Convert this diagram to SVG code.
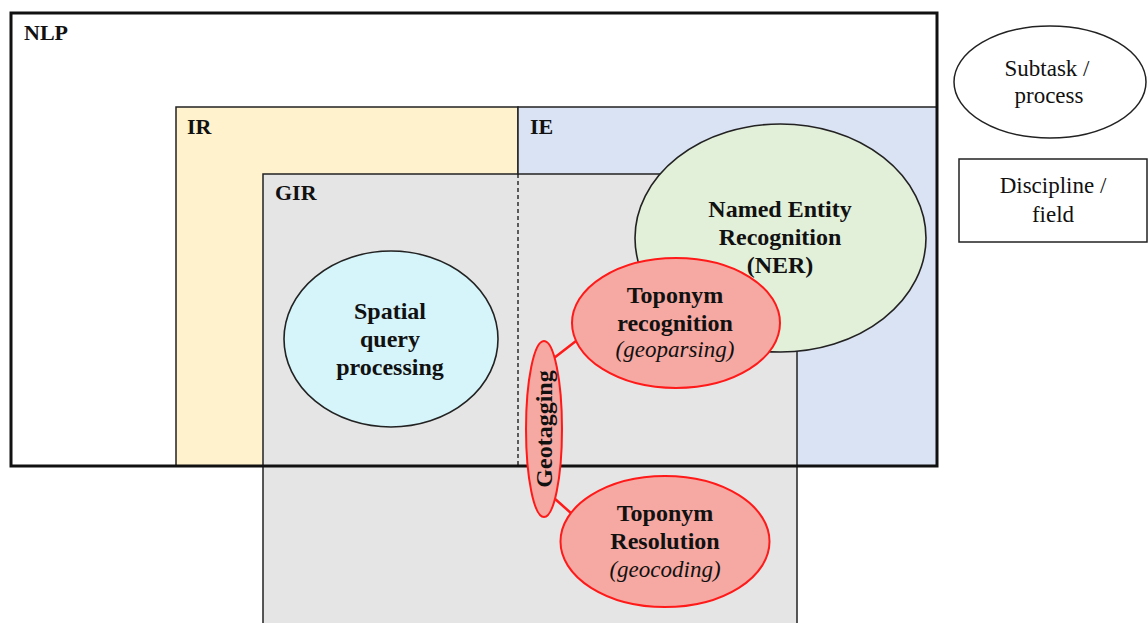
<svg xmlns="http://www.w3.org/2000/svg" width="1148" height="623" viewBox="0 0 1148 623">
<style>
.field{stroke:#222;stroke-width:1.5}
.lbl{font-family:"Liberation Serif",serif;font-weight:bold;font-size:22px;fill:#111}
.nt{font-family:"Liberation Serif",serif;font-weight:bold;font-size:24px;fill:#111;text-anchor:middle}
.it{font-family:"Liberation Serif",serif;font-style:italic;font-size:23px;fill:#111;text-anchor:middle}
.lg{font-family:"Liberation Serif",serif;font-size:23px;fill:#111;text-anchor:middle}
.sub{stroke:#222;stroke-width:1.6}
.red{fill:#f6a8a2;stroke:#ff1a1a;stroke-width:2}
</style>
<rect x="0" y="0" width="1148" height="623" fill="#ffffff"/>
<g id="NLP-fill"><rect x="11" y="13" width="926" height="453" fill="#ffffff"/></g>
<g id="IR"><rect class="field" x="176" y="107" width="342" height="359" fill="#fff2cc"/></g>
<g id="IE"><rect class="field" x="518" y="107" width="419" height="359" fill="#dae3f3"/></g>
<g id="GIR"><rect class="field" x="263" y="174" width="534" height="460" fill="#e5e5e5"/>
<line x1="518" y1="174" x2="518" y2="466" stroke="#111" stroke-width="1.3" stroke-dasharray="4,3"/></g>
<g id="NLP"><rect x="11" y="13" width="926" height="453" fill="none" stroke="#111" stroke-width="3"/>
<text class="lbl" x="24" y="40">NLP</text></g>
<text class="lbl" x="187" y="134">IR</text>
<text class="lbl" x="530" y="134">IE</text>
<text class="lbl" x="275" y="200">GIR</text>
<g id="connectors">
<line x1="554" y1="358" x2="576" y2="341" stroke="#ff1a1a" stroke-width="2.5"/>
<line x1="554" y1="498" x2="572" y2="514" stroke="#ff1a1a" stroke-width="2.5"/>
</g>
<g id="NER"><ellipse class="sub" cx="780.5" cy="238" rx="145.5" ry="114" fill="#e2efd9"/>
<text class="nt" x="780" y="217">Named Entity</text>
<text class="nt" x="780" y="245">Recognition</text>
<text class="nt" x="780" y="273">(NER)</text></g>
<g id="spatial"><ellipse class="sub" cx="391" cy="339" rx="107" ry="88" fill="#d5f5fb"/>
<text class="nt" x="390" y="319">Spatial</text>
<text class="nt" x="390" y="347">query</text>
<text class="nt" x="390" y="375">processing</text></g>
<g id="toponym-recognition"><ellipse class="red" cx="676" cy="323" rx="104" ry="65"/>
<text class="nt" x="675" y="303">Toponym</text>
<text class="nt" x="675" y="331">recognition</text>
<text class="it" x="675" y="357">(geoparsing)</text></g>
<g id="toponym-resolution"><ellipse class="red" cx="665" cy="541.5" rx="104.5" ry="65.5"/>
<text class="nt" x="665" y="521">Toponym</text>
<text class="nt" x="665" y="549">Resolution</text>
<text class="it" x="665" y="577">(geocoding)</text></g>
<g id="geotagging"><ellipse class="red" cx="544" cy="429" rx="18" ry="88"/>
<text class="nt" transform="translate(552,429) rotate(-90)" x="0" y="0">Geotagging</text></g>
<g id="legend-subtask"><ellipse cx="1050" cy="82" rx="96" ry="56" fill="#fff" stroke="#222" stroke-width="1.5"/>
<text class="lg" x="1047" y="76">Subtask /</text>
<text class="lg" x="1049" y="103">process</text></g>
<g id="legend-field"><rect x="959" y="159" width="188" height="83" fill="#fff" stroke="#222" stroke-width="1.5"/>
<text class="lg" x="1053" y="193">Discipline /</text>
<text class="lg" x="1053" y="222">field</text></g>
</svg>
